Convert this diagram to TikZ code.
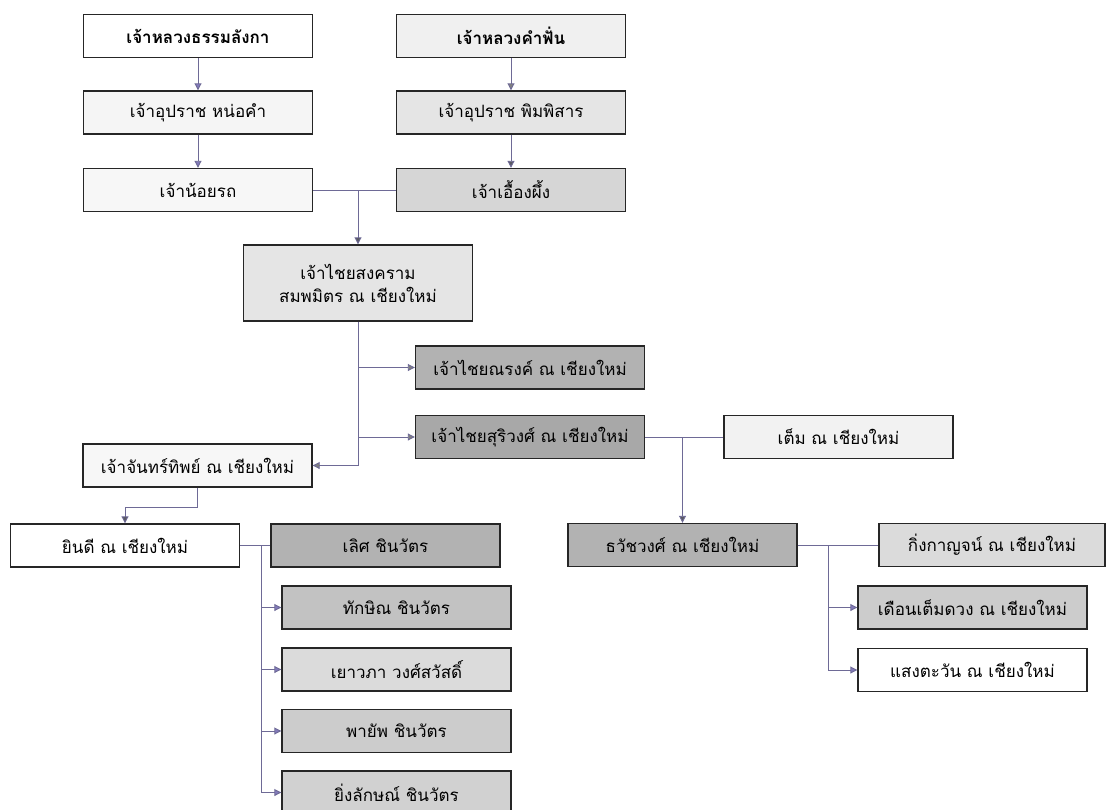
\documentclass[tikz,border=0pt]{standalone}
\usepackage{fontspec}
\newfontfamily\thai[Script=Thai]{Loma}
\usepackage{tikz}
\usetikzlibrary{arrows.meta}
\definecolor{linecol}{RGB}{110,106,150}
\definecolor{tippurple}{RGB}{130,122,185}
\definecolor{tipgray}{RGB}{128,128,128}
\definecolor{tipdark}{RGB}{90,90,100}
\tikzset{
	person/.style={draw=black!85, line width=1.4pt, fill=white, minimum width=229pt, minimum height=43pt, inner sep=0pt, align=center, font=\thai\fontsize{17}{23}\selectfont},
	line/.style={draw=linecol, line width=0.9pt},
	link/.style={line, -{Triangle[width=7pt,length=7pt,fill=#1]}},
	link/.default=tippurple
}

\begin{document}
\begin{tikzpicture}[x=1pt,y=-1pt]
	\clip (0,0) rectangle (1106,809);
	\fill[white] (0,0) rectangle (1106,809);
	% first generations
	\node[person,font=\thai\bfseries\fontsize{17}{23}\selectfont] (dharma) at (198,36) {เจ้าหลวงธรรมลังกา};
	\node[person,fill=black!6,font=\thai\bfseries\fontsize{17}{23}\selectfont] (khamfan) at (511,36) {เจ้าหลวงคำฟั่น};
	\node[person,fill=black!4] (nokham) at (198,112.5) {เจ้าอุปราช หน่อคำ};
	\node[person,fill=black!10] (phimphisan) at (511,112.5) {เจ้าอุปราช พิมพิสาร};
	\node[person,fill=black!3] (noirot) at (198,190) {เจ้าน้อยรถ};
	\node[person,fill=black!16] (ueang) at (511,190) {เจ้าเอื้องผึ้ง};
	\node[person,fill=black!10,minimum height=76pt] (songkhram) at (358,283) {เจ้าไชยสงคราม\\สมพมิตร ณ เชียงใหม่};
	\node[person,fill=black!30] (narong) at (530,367.5) {เจ้าไชยณรงค์ ณ เชียงใหม่};
	\node[person,fill=black!34] (suriwong) at (530,437) {เจ้าไชยสุริวงศ์ ณ เชียงใหม่};
	\node[person,fill=black!5] (tem) at (838.5,437) {เต็ม ณ เชียงใหม่};
	\node[person,fill=black!3] (chanthip) at (197.5,465.5) {เจ้าจันทร์ทิพย์ ณ เชียงใหม่};
	% next generations
	\node[person] (yindee) at (125,545.5) {ยินดี ณ เชียงใหม่};
	\node[person,fill=black!30] (loet) at (385.5,545.5) {เลิศ ชินวัตร};
	\node[person,fill=black!30] (thawat) at (682.5,545) {ธวัชวงศ์ ณ เชียงใหม่};
	\node[person,fill=black!14,minimum width=226pt] (kingkan) at (992,545) {กิ่งกาญจน์ ณ เชียงใหม่};
	\node[person,fill=black!24] (thaksin) at (396.5,607.5) {ทักษิณ ชินวัตร};
	\node[person,fill=black!14] (yaowapha) at (396.5,669.5) {เยาวภา วงศ์สวัสดิ์};
	\node[person,fill=black!20] (phayap) at (396.5,731) {พายัพ ชินวัตร};
	\node[person,fill=black!18] (yingluck) at (396.5,792.5) {ยิ่งลักษณ์ ชินวัตร};
	\node[person,fill=black!20] (duean) at (972.5,607.5) {เดือนเต็มดวง ณ เชียงใหม่};
	\node[person] (saeng) at (972.5,670) {แสงตะวัน ณ เชียงใหม่};
	% connectors
	\draw[link] (dharma) -- (nokham);
	\draw[link] (nokham) -- (noirot);
	\draw[link=tipgray] (khamfan) -- (phimphisan);
	\draw[link=tipdark] (phimphisan) -- (ueang);
	\draw[line] (noirot) -- (ueang);
	\coordinate (m1) at (noirot.east -| songkhram.north);
	\draw[link=tipdark] (m1) -- (songkhram);
	\draw[link=tipgray] (songkhram.south) |- (chanthip.east);
	\draw[link=tipgray] (songkhram.south |- narong.west) -- (narong);
	\draw[link=tipgray] (songkhram.south |- suriwong.west) -- (suriwong);
	\draw[line] (suriwong) -- (tem);
	\coordinate (m2) at (suriwong.east -| thawat.north);
	\draw[link=tipdark] (m2) -- (thawat);
	\draw[line] (thawat) -- (kingkan);
	\coordinate (m3) at (828,545);
	\draw[link] (m3) |- (duean.west);
	\draw[link] (m3) |- (saeng.west);
	\draw[link=tipdark] (chanthip.south) -- ++(0,20) -| (yindee.north);
	\draw[line] (yindee) -- (loet);
	\coordinate (m4) at (261,545.5);
	\draw[link] (m4) |- (thaksin.west);
	\draw[link] (m4) |- (yaowapha.west);
	\draw[link] (m4) |- (phayap.west);
	\draw[link] (m4) |- (yingluck.west);
\end{tikzpicture}
\end{document}
